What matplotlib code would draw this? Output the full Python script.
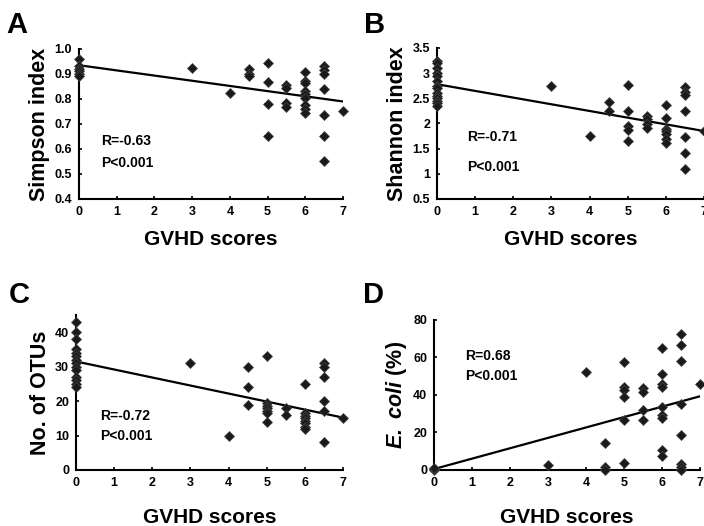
import matplotlib
matplotlib.use("Agg")
import matplotlib.pyplot as plt

plt.rcParams["font.family"] = ["Liberation Sans", "DejaVu Sans"]
plt.rcParams["font.weight"] = "bold"
plt.rcParams["mathtext.fontset"] = "custom"
plt.rcParams["mathtext.bfit"] = "Liberation Sans:italic:bold"
plt.rcParams["mathtext.rm"] = "Liberation Sans:bold"

# panel A - Simpson index
simpson_x = [0, 0, 0, 0, 0, 0, 3, 4, 4.5, 4.5, 4.5,
             5, 5, 5, 5, 5.5, 5.5, 5.5, 5.5,
             6, 6, 6, 6, 6, 6, 6, 6, 6,
             6.5, 6.5, 6.5, 6.5, 6.5, 6.5, 6.5, 7]
simpson_y = [0.96, 0.93, 0.92, 0.91, 0.90, 0.89, 0.924, 0.824, 0.92, 0.90, 0.89,
             0.944, 0.868, 0.781, 0.651, 0.857, 0.844, 0.784, 0.768,
             0.907, 0.871, 0.864, 0.831, 0.821, 0.804, 0.777, 0.76, 0.744,
             0.93, 0.917, 0.90, 0.841, 0.737, 0.651, 0.551, 0.751]
simpson_fit = [0.935, 0.79]

# panel B - Shannon index
shannon_x = [0] * 14 + [3, 4, 4.5, 4.5, 5, 5, 5, 5, 5,
                        5.5, 5.5, 5.5, 5.5,
                        6, 6, 6, 6, 6, 6, 6,
                        6.5, 6.5, 6.5, 6.5, 6.5, 6.5, 6.5, 7]
shannon_y = [3.25, 3.2, 3.1, 3.0, 2.95, 2.85, 2.75, 2.7, 2.6, 2.55, 2.5, 2.45, 2.4, 2.35,
             2.74, 1.75, 2.42, 2.25, 2.77, 2.25, 1.94, 1.87, 1.65,
             2.15, 2.09, 1.99, 1.92,
             2.37, 2.1, 1.9, 1.85, 1.79, 1.69, 1.62,
             2.72, 2.62, 2.57, 2.25, 1.73, 1.41, 1.09, 1.85]
shannon_fit = [2.78, 1.85]

# panel C - number of OTUs
otu_x = [0] * 14 + [3, 4, 4.5, 4.5, 4.5,
                    5, 5, 5, 5, 5, 5, 5,
                    5.5, 5.5,
                    6, 6, 6, 6, 6, 6, 6, 6,
                    6.5, 6.5, 6.5, 6.5, 6.5, 6.5, 7]
otu_y = [43, 40, 38, 35, 34, 33, 32, 31, 30, 29, 27, 26, 25, 24,
         31, 10, 30, 24, 19,
         33, 19.4, 18.6, 17.9, 17.1, 16.5, 14,
         18, 16,
         25, 16.5, 15.7, 15, 14.2, 13.6, 12.6, 11.8,
         31, 29.8, 27, 20, 17, 8, 15]
otu_fit = [31.5, 15.2]

# panel D - E. coli (%)
ecoli_x = [0, 0, 0, 3, 4, 4.5, 4.5, 4.5,
           5, 5, 5, 5, 5, 5,
           5.5, 5.5, 5.5, 5.5,
           6, 6, 6, 6, 6, 6, 6, 6, 6,
           6.5, 6.5, 6.5, 6.5, 6.5, 6.5, 6.5, 6.5, 7]
ecoli_y = [0, 0.5, 1, 2.7, 52, 14.3, 1.6, 0,
           57.5, 44.3, 42.5, 38.9, 26.5, 3.7,
           43.9, 41.8, 32.2, 26.9,
           65, 51.4, 46.1, 44.3, 33.6, 29.2, 27.9, 10.9, 7.3,
           72.4, 66.5, 58.1, 35.4, 18.9, 3, 1.5, 0, 46.1]
ecoli_fit = [0.5, 39.3]

x_ticks = [0, 1, 2, 3, 4, 5, 6, 7]

fig = plt.figure(figsize=(7.04, 5.26), dpi=100)

panels = [
    ("A", [0.1122, 0.6217, 0.375, 0.2852], simpson_x, simpson_y, simpson_fit,
     "Simpson index", (0.4, 1.0), [0.4, 0.5, 0.6, 0.7, 0.8, 0.9, 1.0],
     ["0.4", "0.5", "0.6", "0.7", "0.8", "0.9", "1.0"],
     "R=-0.63", (0.6, 0.616), (0.6, 0.528), 9, (6, 11)),
    ("B", [0.6207, 0.6217, 0.3793, 0.2871], shannon_x, shannon_y, shannon_fit,
     "Shannon index", (0.5, 3.5), [0.5, 1, 1.5, 2, 2.5, 3, 3.5],
     ["0.5", "1", "1.5", "2", "2.5", "3", "3.5"],
     "R=-0.71", (0.8, 1.65), (0.8, 1.05), 9, (364, 11)),
    ("C", [0.108, 0.1065, 0.3793, 0.2947], otu_x, otu_y, otu_fit,
     "No. of OTUs", (0, 45), [0, 10, 20, 30, 40],
     ["0", "10", "20", "30", "40"],
     "R=-0.72", (0.63, 14.5), (0.63, 8.7), 14, (9, 281)),
    ("D", [0.6165, 0.1065, 0.3778, 0.2852], ecoli_x, ecoli_y, ecoli_fit,
     r"$\mathbfit{E.}$ $\mathbfit{coli}$ (%)", (0, 80), [0, 20, 40, 60, 80],
     ["0", "20", "40", "60", "80"],
     "R=0.68", (0.82, 58.7), (0.82, 48), 14, (363, 281)),
]

for letter, pos, xs, ys, fit, ylabel, ylim, yt, ytl, rtext, rpos, ppos, lpad, lpos in panels:
    ax = fig.add_axes(pos)
    ax.plot([0, 7], fit, color="black", lw=1.6, zorder=2)
    ax.plot(xs, ys, "D", color="#1a1a1a", markersize=5.4, markeredgecolor="#444444",
            markeredgewidth=0.5, clip_on=False, zorder=3)
    ax.set_xlim(0, 7)
    ax.set_ylim(*ylim)
    ax.set_xticks(x_ticks)
    ax.set_yticks(yt)
    ax.set_yticklabels(ytl)
    ax.spines["top"].set_visible(False)
    ax.spines["right"].set_visible(False)
    ax.spines["left"].set_linewidth(1.5)
    ax.spines["bottom"].set_linewidth(1.5)
    ax.tick_params(direction="in", length=2.5, width=1.2, labelsize=9)
    ax.tick_params(axis="x", pad=5)
    ax.tick_params(axis="y", pad=5)
    ax.set_xlabel("GVHD scores", fontsize=15, fontweight="bold", labelpad=lpad)
    ax.set_ylabel(ylabel, fontsize=15.5, fontweight="bold", labelpad=3)
    ax.text(rpos[0], rpos[1], rtext, fontsize=10, fontweight="bold")
    ax.text(ppos[0], ppos[1], "P<0.001", fontsize=10, fontweight="bold")
    fig.text(lpos[0] / 704, 1 - lpos[1] / 526, letter, fontsize=21, fontweight="bold",
             va="top", ha="left")

fig.savefig("out.png", dpi=100)
